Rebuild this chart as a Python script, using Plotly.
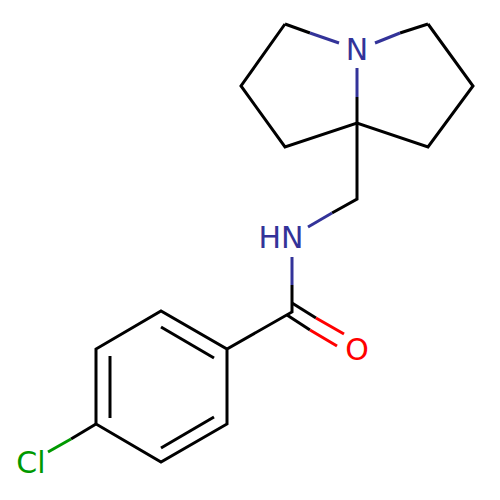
import plotly.graph_objects as go

# black parts of the bonds (pixels, y pointing down), None breaks the line
black_x = [285, 241, 285, 357, 428, 473, 428, None,
           285, 310, None, 428, 400, None, 357, 357, None,
           357, 357, 332, None, 292, 292, 227, 161, 96, 96, 161, 227, 227, None,
           292, 316, None, 287, 310, None,
           161, 214, None, 110, 110, None, 161, 214, None, 96, 71]
black_y = [24, 86, 147, 123, 147, 86, 24, None,
           24, 33, None, 24, 33, None, 123, 97, None,
           123, 199, 213, None, 285, 312, 349, 311, 349, 424, 462, 424, 349, None,
           303, 318, None, 315, 330, None,
           327, 358, None, 356, 418, None, 448, 417, None, 424, 439]

# heteroatom coloured halves
blue_x = [310, 339, None, 400, 375, None, 357, 357, None, 332, 308, None, 292, 292]
blue_y = [33, 43, None, 33, 43, None, 97, 68, None, 213, 227, None, 285, 257]
red_x = [316, 344, None, 310, 337]
red_y = [318, 334, None, 330, 346]
green_x = [71, 48]
green_y = [439, 452]

labels = ["N", "HN", "O", "Cl"]
label_x = [357, 281, 357, 31]
label_y = [52.5, 240, 352, 465.5]
label_colors = ["#333399", "#333399", "#FF0000", "#009900"]

fig = go.Figure()
for xs, ys, color in [(black_x, black_y, "#000000"),
                      (blue_x, blue_y, "#333399"),
                      (red_x, red_y, "#FF0000"),
                      (green_x, green_y, "#009900")]:
    fig.add_trace(go.Scatter(x=xs, y=ys, mode="lines",
                             line=dict(color=color, width=3),
                             hoverinfo="skip", showlegend=False))

fig.add_trace(go.Scatter(x=label_x, y=label_y, mode="text", text=labels,
                         textposition="middle center",
                         textfont=dict(family="DejaVu Sans", size=30, color=label_colors),
                         hoverinfo="skip", showlegend=False))

fig.update_layout(width=500, height=500, margin=dict(l=0, r=0, t=0, b=0),
                  paper_bgcolor="white", plot_bgcolor="white")
# page body adds an 8px margin, so shift the axes to compensate
fig.update_xaxes(range=[8, 508], visible=False)
fig.update_yaxes(range=[508, 8], visible=False)
fig.write_html("out.html")
